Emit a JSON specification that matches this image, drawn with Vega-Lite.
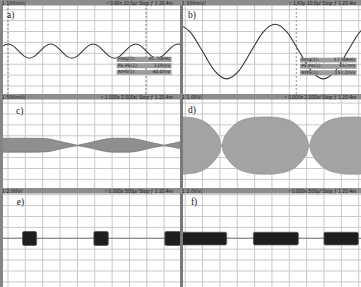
{
  "$schema": "https://vega.github.io/schema/vega-lite/v6.json",
  "padding": 0,
  "background": "#ffffff",
  "spacing": 0,
  "config": {"view": {"stroke": null}},
  "datasets": {
    "gx": [{"g": 0}, {"g": 1}, {"g": 2}, {"g": 3}, {"g": 4}, {"g": 5}, {"g": 6}, {"g": 7}, {"g": 8}, {"g": 9}, {"g": 10}],
    "gy": [{"g": -4}, {"g": -3}, {"g": -2}, {"g": -1}, {"g": 0}, {"g": 1}, {"g": 2}, {"g": 3}, {"g": 4}],
    "panels": [
      {"panel": "a", "label": "a)", "scale": "1 100mV/", "status": "↑ 0.00s   10.0μ/   Stop  ƒ 1  20.4m"},
      {"panel": "b", "label": "b)", "scale": "1 100mV/", "status": "↑ 1.60μ   10.0μ/   Stop  ƒ 1  20.4m"},
      {"panel": "c", "label": "c)", "scale": "1 500mV/", "status": "↑ 1.000s   2.000s/   Stop  ƒ 1  20.4m"},
      {"panel": "d", "label": "d)", "scale": "1 1.00V/", "status": "↑ 0.000s   2.000s/   Stop  ƒ 1  20.4m"},
      {"panel": "e", "label": "e)", "scale": "1 2.00V/", "status": "↑ 0.000s   500μ/   Stop  ƒ 1  20.4m"},
      {"panel": "f", "label": "f)", "scale": "1 2.00V/", "status": "↑ 0.000s   500μ/   Stop  ƒ 1  20.4m"}
    ],
    "cursors": [{"panel": "a", "t": 0}, {"panel": "a", "t": 7.95}, {"panel": "b", "t": 6.4}],
    "readouts": [
      {"panel": "a", "slot": 1, "name": "Freq(1):", "value": "41.70kHz"},
      {"panel": "a", "slot": 2, "name": "Pk-Pk(1):", "value": "119mV"},
      {"panel": "a", "slot": 3, "name": "RMS(1):", "value": "40.0mV"},
      {"panel": "b", "slot": 1, "name": "Freq(1):", "value": "17.50kHz"},
      {"panel": "b", "slot": 2, "name": "Pk-Pk(1):", "value": "457mV"},
      {"panel": "b", "slot": 3, "name": "RMS(1):", "value": "151.2mV"}
    ],
    "wave_a": [
      {"t": -0.6, "v": 0.2}, {"t": -0.296, "v": 0.66}, {"t": 0.01, "v": 0.85}, {"t": 0.316, "v": 0.66},
      {"t": 0.623, "v": 0.2}, {"t": 0.929, "v": -0.26}, {"t": 1.235, "v": -0.45}, {"t": 1.541, "v": -0.26},
      {"t": 1.848, "v": 0.2}, {"t": 2.154, "v": 0.66}, {"t": 2.46, "v": 0.85}, {"t": 2.766, "v": 0.66},
      {"t": 3.073, "v": 0.2}, {"t": 3.379, "v": -0.26}, {"t": 3.685, "v": -0.45}, {"t": 3.991, "v": -0.26},
      {"t": 4.298, "v": 0.2}, {"t": 4.604, "v": 0.66}, {"t": 4.91, "v": 0.85}, {"t": 5.216, "v": 0.66},
      {"t": 5.523, "v": 0.2}, {"t": 5.829, "v": -0.26}, {"t": 6.135, "v": -0.45}, {"t": 6.441, "v": -0.26},
      {"t": 6.748, "v": 0.2}, {"t": 7.054, "v": 0.66}, {"t": 7.36, "v": 0.85}, {"t": 7.666, "v": 0.66},
      {"t": 7.973, "v": 0.2}, {"t": 8.279, "v": -0.26}, {"t": 8.585, "v": -0.45}, {"t": 8.891, "v": -0.26},
      {"t": 9.198, "v": 0.2}, {"t": 9.504, "v": 0.66}, {"t": 9.81, "v": 0.85}, {"t": 10.116, "v": 0.66}
    ],
    "wave_b": [
      {"t": -0.39, "v": 2.66}, {"t": 0.306, "v": 1.93}, {"t": 1.004, "v": 0.16}, {"t": 1.7, "v": -1.61},
      {"t": 2.39, "v": -2.34}, {"t": 3.09, "v": -1.61}, {"t": 3.79, "v": 0.16}, {"t": 4.48, "v": 1.93},
      {"t": 5.18, "v": 2.66}, {"t": 5.88, "v": 1.93}, {"t": 6.57, "v": 0.16}, {"t": 7.27, "v": -1.61},
      {"t": 7.96, "v": -2.34}, {"t": 8.66, "v": -1.61}, {"t": 9.36, "v": 0.16}, {"t": 10.05, "v": 1.93},
      {"t": 10.75, "v": 2.66}
    ],
    "env_c": [
      {"t": -0.5, "v": 0.77, "v2": -0.51}, {"t": 1.7, "v": 0.77, "v2": -0.51}, {"t": 2.3, "v": 0.72, "v2": -0.46},
      {"t": 2.6, "v": 0.63, "v2": -0.37}, {"t": 3.0, "v": 0.48, "v2": -0.22}, {"t": 3.4, "v": 0.34, "v2": -0.08},
      {"t": 3.7, "v": 0.24, "v2": 0.02}, {"t": 4.0, "v": 0.13, "v2": 0.13}, {"t": 4.3, "v": 0.24, "v2": 0.02},
      {"t": 4.6, "v": 0.34, "v2": -0.08}, {"t": 5.0, "v": 0.48, "v2": -0.22}, {"t": 5.4, "v": 0.63, "v2": -0.37},
      {"t": 5.7, "v": 0.72, "v2": -0.46}, {"t": 6.0, "v": 0.77, "v2": -0.51}, {"t": 7.0, "v": 0.77, "v2": -0.51},
      {"t": 7.3, "v": 0.72, "v2": -0.46}, {"t": 7.6, "v": 0.63, "v2": -0.37}, {"t": 8.0, "v": 0.48, "v2": -0.22},
      {"t": 8.4, "v": 0.34, "v2": -0.08}, {"t": 8.7, "v": 0.24, "v2": 0.02}, {"t": 9.0, "v": 0.13, "v2": 0.13},
      {"t": 9.3, "v": 0.24, "v2": 0.02}, {"t": 9.6, "v": 0.34, "v2": -0.08}, {"t": 10.0, "v": 0.48, "v2": -0.22}
    ],
    "env_d": [
      {"t": -0.4, "v": 2.73, "v2": -2.53}, {"t": 0.1, "v": 2.7, "v2": -2.5}, {"t": 0.6, "v": 2.6, "v2": -2.4},
      {"t": 1.1, "v": 2.3, "v2": -2.1}, {"t": 1.35, "v": 2.03, "v2": -1.83}, {"t": 1.6, "v": 1.65, "v2": -1.45},
      {"t": 1.85, "v": 1.12, "v2": -0.92}, {"t": 2.0, "v": 0.66, "v2": -0.46}, {"t": 2.1, "v": 0.1, "v2": 0.1},
      {"t": 2.2, "v": 0.66, "v2": -0.46}, {"t": 2.35, "v": 1.12, "v2": -0.92}, {"t": 2.6, "v": 1.65, "v2": -1.45},
      {"t": 2.85, "v": 2.03, "v2": -1.83}, {"t": 3.1, "v": 2.3, "v2": -2.1}, {"t": 3.6, "v": 2.58, "v2": -2.38},
      {"t": 4.1, "v": 2.7, "v2": -2.5}, {"t": 4.63, "v": 2.73, "v2": -2.53}, {"t": 5.15, "v": 2.7, "v2": -2.5},
      {"t": 5.65, "v": 2.58, "v2": -2.38}, {"t": 6.15, "v": 2.3, "v2": -2.1}, {"t": 6.4, "v": 2.03, "v2": -1.83},
      {"t": 6.65, "v": 1.65, "v2": -1.45}, {"t": 6.9, "v": 1.12, "v2": -0.92}, {"t": 7.05, "v": 0.66, "v2": -0.46},
      {"t": 7.15, "v": 0.1, "v2": 0.1}, {"t": 7.25, "v": 0.66, "v2": -0.46}, {"t": 7.4, "v": 1.12, "v2": -0.92},
      {"t": 7.65, "v": 1.65, "v2": -1.45}, {"t": 7.9, "v": 2.03, "v2": -1.83}, {"t": 8.15, "v": 2.3, "v2": -2.1},
      {"t": 8.65, "v": 2.58, "v2": -2.38}, {"t": 9.15, "v": 2.7, "v2": -2.5}, {"t": 9.7, "v": 2.73, "v2": -2.53},
      {"t": 10.2, "v": 2.7, "v2": -2.5}
    ],
    "bursts": [
      {"panel": "e", "t": 0.84, "t2": 1.65, "v": 0.62, "v2": -0.66},
      {"panel": "e", "t": 4.95, "t2": 5.78, "v": 0.62, "v2": -0.66},
      {"panel": "e", "t": 9.04, "t2": 9.95, "v": 0.62, "v2": -0.66},
      {"panel": "f", "t": -0.3, "t2": 2.39, "v": 0.55, "v2": -0.61},
      {"panel": "f", "t": 3.93, "t2": 6.52, "v": 0.55, "v2": -0.61},
      {"panel": "f", "t": 8.0, "t2": 9.98, "v": 0.55, "v2": -0.61}
    ]
  },
  "vconcat": [
    {
      "spacing": 0,
      "bounds": "flush",
      "hconcat": [
        {
          "width": 180,
          "height": 94,
          "layer": [
            {"data": {"name": "gx"}, "mark": {"type": "rule", "color": "#c8c8c8", "strokeWidth": 1, "clip": true},
             "encoding": {"x": {"field": "g", "type": "quantitative", "scale": {"domain": [-0.461, 9.914], "nice": false, "zero": false}, "axis": null}}},
            {"data": {"name": "gy"}, "mark": {"type": "rule", "color": "#c8c8c8", "strokeWidth": 1, "clip": true},
             "encoding": {"y": {"field": "g", "type": "quantitative", "scale": {"domain": [-3.73, 4.89], "nice": false, "zero": false}, "axis": null}}},
            {"data": {"name": "cursors"}, "transform": [{"filter": "datum.panel === 'a'"}],
             "mark": {"type": "rule", "color": "#8a8a8a", "strokeWidth": 1, "strokeDash": [2, 2], "clip": true},
             "encoding": {"x": {"field": "t", "type": "quantitative", "scale": {"domain": [-0.461, 9.914], "nice": false, "zero": false}, "axis": null}}},
            {"data": {"name": "wave_a"}, "mark": {"type": "line", "color": "#383838", "strokeWidth": 1.1, "interpolate": "monotone", "clip": true},
             "encoding": {"x": {"field": "t", "type": "quantitative", "scale": {"domain": [-0.461, 9.914], "nice": false, "zero": false}, "axis": null},
                          "y": {"field": "v", "type": "quantitative", "scale": {"domain": [-3.73, 4.89], "nice": false, "zero": false}, "axis": null}}},
            {"data": {"name": "readouts"}, "transform": [{"filter": "datum.panel === 'a' && datum.slot === 1"}], "mark": {"type": "rect", "color": "#9c9c9c"},
             "encoding": {"x": {"datum": 6.26, "type": "quantitative", "scale": {"domain": [-0.461, 9.914], "nice": false, "zero": false}, "axis": null}, "x2": {"datum": 9.43},
                          "y": {"datum": -0.31, "type": "quantitative", "scale": {"domain": [-3.73, 4.89], "nice": false, "zero": false}, "axis": null}, "y2": {"datum": -0.8}}},
            {"data": {"name": "readouts"}, "transform": [{"filter": "datum.panel === 'a' && datum.slot === 2"}], "mark": {"type": "rect", "color": "#9c9c9c"},
             "encoding": {"x": {"datum": 6.26, "type": "quantitative", "scale": {"domain": [-0.461, 9.914], "nice": false, "zero": false}, "axis": null}, "x2": {"datum": 9.43},
                          "y": {"datum": -0.92, "type": "quantitative", "scale": {"domain": [-3.73, 4.89], "nice": false, "zero": false}, "axis": null}, "y2": {"datum": -1.37}}},
            {"data": {"name": "readouts"}, "transform": [{"filter": "datum.panel === 'a' && datum.slot === 3"}], "mark": {"type": "rect", "color": "#9c9c9c"},
             "encoding": {"x": {"datum": 6.26, "type": "quantitative", "scale": {"domain": [-0.461, 9.914], "nice": false, "zero": false}, "axis": null}, "x2": {"datum": 9.43},
                          "y": {"datum": -1.53, "type": "quantitative", "scale": {"domain": [-3.73, 4.89], "nice": false, "zero": false}, "axis": null}, "y2": {"datum": -1.97}}},
            {"data": {"name": "readouts"}, "transform": [{"filter": "datum.panel === 'a' && datum.slot === 1"}], "mark": {"type": "text", "align": "left", "baseline": "middle", "fontSize": 4.6, "font": "DejaVu Sans", "color": "#1c1c1c"},
             "encoding": {"x": {"datum": 6.33, "type": "quantitative", "scale": {"domain": [-0.461, 9.914], "nice": false, "zero": false}, "axis": null},
                          "y": {"datum": -0.555, "type": "quantitative", "scale": {"domain": [-3.73, 4.89], "nice": false, "zero": false}, "axis": null}, "text": {"field": "name"}}},
            {"data": {"name": "readouts"}, "transform": [{"filter": "datum.panel === 'a' && datum.slot === 1"}], "mark": {"type": "text", "align": "right", "baseline": "middle", "fontSize": 4.6, "font": "DejaVu Sans", "color": "#1c1c1c"},
             "encoding": {"x": {"datum": 9.36, "type": "quantitative", "scale": {"domain": [-0.461, 9.914], "nice": false, "zero": false}, "axis": null},
                          "y": {"datum": -0.555, "type": "quantitative", "scale": {"domain": [-3.73, 4.89], "nice": false, "zero": false}, "axis": null}, "text": {"field": "value"}}},
            {"data": {"name": "readouts"}, "transform": [{"filter": "datum.panel === 'a' && datum.slot === 2"}], "mark": {"type": "text", "align": "left", "baseline": "middle", "fontSize": 4.6, "font": "DejaVu Sans", "color": "#1c1c1c"},
             "encoding": {"x": {"datum": 6.33, "type": "quantitative", "scale": {"domain": [-0.461, 9.914], "nice": false, "zero": false}, "axis": null},
                          "y": {"datum": -1.145, "type": "quantitative", "scale": {"domain": [-3.73, 4.89], "nice": false, "zero": false}, "axis": null}, "text": {"field": "name"}}},
            {"data": {"name": "readouts"}, "transform": [{"filter": "datum.panel === 'a' && datum.slot === 2"}], "mark": {"type": "text", "align": "right", "baseline": "middle", "fontSize": 4.6, "font": "DejaVu Sans", "color": "#1c1c1c"},
             "encoding": {"x": {"datum": 9.36, "type": "quantitative", "scale": {"domain": [-0.461, 9.914], "nice": false, "zero": false}, "axis": null},
                          "y": {"datum": -1.145, "type": "quantitative", "scale": {"domain": [-3.73, 4.89], "nice": false, "zero": false}, "axis": null}, "text": {"field": "value"}}},
            {"data": {"name": "readouts"}, "transform": [{"filter": "datum.panel === 'a' && datum.slot === 3"}], "mark": {"type": "text", "align": "left", "baseline": "middle", "fontSize": 4.6, "font": "DejaVu Sans", "color": "#1c1c1c"},
             "encoding": {"x": {"datum": 6.33, "type": "quantitative", "scale": {"domain": [-0.461, 9.914], "nice": false, "zero": false}, "axis": null},
                          "y": {"datum": -1.75, "type": "quantitative", "scale": {"domain": [-3.73, 4.89], "nice": false, "zero": false}, "axis": null}, "text": {"field": "name"}}},
            {"data": {"name": "readouts"}, "transform": [{"filter": "datum.panel === 'a' && datum.slot === 3"}], "mark": {"type": "text", "align": "right", "baseline": "middle", "fontSize": 4.6, "font": "DejaVu Sans", "color": "#1c1c1c"},
             "encoding": {"x": {"datum": 9.36, "type": "quantitative", "scale": {"domain": [-0.461, 9.914], "nice": false, "zero": false}, "axis": null},
                          "y": {"datum": -1.75, "type": "quantitative", "scale": {"domain": [-3.73, 4.89], "nice": false, "zero": false}, "axis": null}, "text": {"field": "value"}}},
            {"data": {"name": "panels"}, "transform": [{"filter": "datum.panel === 'a'"}], "mark": {"type": "rect", "color": "#858585"},
             "encoding": {"x": {"datum": -0.461, "type": "quantitative", "scale": {"domain": [-0.461, 9.914], "nice": false, "zero": false}, "axis": null}, "x2": {"datum": -0.288},
                          "y": {"datum": -3.73, "type": "quantitative", "scale": {"domain": [-3.73, 4.89], "nice": false, "zero": false}, "axis": null}, "y2": {"datum": 4.89}}},
            {"data": {"name": "panels"}, "transform": [{"filter": "datum.panel === 'a'"}], "mark": {"type": "rect", "color": "#8d8d8d"},
             "encoding": {"x": {"datum": -0.461, "type": "quantitative", "scale": {"domain": [-0.461, 9.914], "nice": false, "zero": false}, "axis": null}, "x2": {"datum": 9.914},
                          "y": {"datum": 4.39, "type": "quantitative", "scale": {"domain": [-3.73, 4.89], "nice": false, "zero": false}, "axis": null}, "y2": {"datum": 4.89}}},
            {"data": {"name": "panels"}, "transform": [{"filter": "datum.panel === 'a'"}], "mark": {"type": "text", "align": "left", "baseline": "middle", "fontSize": 5, "font": "DejaVu Sans", "color": "#1a1a1a"},
             "encoding": {"x": {"datum": -0.38, "type": "quantitative", "scale": {"domain": [-0.461, 9.914], "nice": false, "zero": false}, "axis": null},
                          "y": {"datum": 4.64, "type": "quantitative", "scale": {"domain": [-3.73, 4.89], "nice": false, "zero": false}, "axis": null}, "text": {"field": "scale"}}},
            {"data": {"name": "panels"}, "transform": [{"filter": "datum.panel === 'a'"}], "mark": {"type": "text", "align": "right", "baseline": "middle", "fontSize": 5, "font": "Liberation Sans", "color": "#1a1a1a"},
             "encoding": {"x": {"datum": 9.5, "type": "quantitative", "scale": {"domain": [-0.461, 9.914], "nice": false, "zero": false}, "axis": null},
                          "y": {"datum": 4.64, "type": "quantitative", "scale": {"domain": [-3.73, 4.89], "nice": false, "zero": false}, "axis": null}, "text": {"field": "status"}}},
            {"data": {"name": "panels"}, "transform": [{"filter": "datum.panel === 'a'"}], "mark": {"type": "text", "align": "left", "baseline": "alphabetic", "fontSize": 9.5, "font": "Liberation Serif", "color": "#222222"},
             "encoding": {"x": {"datum": -0.06, "type": "quantitative", "scale": {"domain": [-0.461, 9.914], "nice": false, "zero": false}, "axis": null},
                          "y": {"datum": 3.27, "type": "quantitative", "scale": {"domain": [-3.73, 4.89], "nice": false, "zero": false}, "axis": null}, "text": {"field": "label"}}}
          ]
        },
        {
          "width": 181,
          "height": 94,
          "layer": [
            {"data": {"name": "gx"}, "mark": {"type": "rule", "color": "#c8c8c8", "strokeWidth": 1, "clip": true},
             "encoding": {"x": {"field": "g", "type": "quantitative", "scale": {"domain": [-0.3, 10.133], "nice": false, "zero": false}, "axis": null}}},
            {"data": {"name": "gy"}, "mark": {"type": "rule", "color": "#c8c8c8", "strokeWidth": 1, "clip": true},
             "encoding": {"y": {"field": "g", "type": "quantitative", "scale": {"domain": [-3.73, 4.89], "nice": false, "zero": false}, "axis": null}}},
            {"data": {"name": "cursors"}, "transform": [{"filter": "datum.panel === 'b'"}],
             "mark": {"type": "rule", "color": "#8a8a8a", "strokeWidth": 1, "strokeDash": [2, 2], "clip": true},
             "encoding": {"x": {"field": "t", "type": "quantitative", "scale": {"domain": [-0.3, 10.133], "nice": false, "zero": false}, "axis": null}}},
            {"data": {"name": "wave_b"}, "mark": {"type": "line", "color": "#383838", "strokeWidth": 1.1, "interpolate": "monotone", "clip": true},
             "encoding": {"x": {"field": "t", "type": "quantitative", "scale": {"domain": [-0.3, 10.133], "nice": false, "zero": false}, "axis": null},
                          "y": {"field": "v", "type": "quantitative", "scale": {"domain": [-3.73, 4.89], "nice": false, "zero": false}, "axis": null}}},
            {"data": {"name": "readouts"}, "transform": [{"filter": "datum.panel === 'b' && datum.slot === 1"}], "mark": {"type": "rect", "color": "#9c9c9c"},
             "encoding": {"x": {"datum": 6.62, "type": "quantitative", "scale": {"domain": [-0.3, 10.133], "nice": false, "zero": false}, "axis": null}, "x2": {"datum": 9.88},
                          "y": {"datum": -0.4, "type": "quantitative", "scale": {"domain": [-3.73, 4.89], "nice": false, "zero": false}, "axis": null}, "y2": {"datum": -0.85}}},
            {"data": {"name": "readouts"}, "transform": [{"filter": "datum.panel === 'b' && datum.slot === 2"}], "mark": {"type": "rect", "color": "#9c9c9c"},
             "encoding": {"x": {"datum": 6.62, "type": "quantitative", "scale": {"domain": [-0.3, 10.133], "nice": false, "zero": false}, "axis": null}, "x2": {"datum": 9.88},
                          "y": {"datum": -0.98, "type": "quantitative", "scale": {"domain": [-3.73, 4.89], "nice": false, "zero": false}, "axis": null}, "y2": {"datum": -1.42}}},
            {"data": {"name": "readouts"}, "transform": [{"filter": "datum.panel === 'b' && datum.slot === 3"}], "mark": {"type": "rect", "color": "#9c9c9c"},
             "encoding": {"x": {"datum": 6.62, "type": "quantitative", "scale": {"domain": [-0.3, 10.133], "nice": false, "zero": false}, "axis": null}, "x2": {"datum": 9.88},
                          "y": {"datum": -1.56, "type": "quantitative", "scale": {"domain": [-3.73, 4.89], "nice": false, "zero": false}, "axis": null}, "y2": {"datum": -2.0}}},
            {"data": {"name": "readouts"}, "transform": [{"filter": "datum.panel === 'b' && datum.slot === 1"}], "mark": {"type": "text", "align": "left", "baseline": "middle", "fontSize": 4.6, "font": "DejaVu Sans", "color": "#1c1c1c"},
             "encoding": {"x": {"datum": 6.69, "type": "quantitative", "scale": {"domain": [-0.3, 10.133], "nice": false, "zero": false}, "axis": null},
                          "y": {"datum": -0.625, "type": "quantitative", "scale": {"domain": [-3.73, 4.89], "nice": false, "zero": false}, "axis": null}, "text": {"field": "name"}}},
            {"data": {"name": "readouts"}, "transform": [{"filter": "datum.panel === 'b' && datum.slot === 1"}], "mark": {"type": "text", "align": "right", "baseline": "middle", "fontSize": 4.6, "font": "DejaVu Sans", "color": "#1c1c1c"},
             "encoding": {"x": {"datum": 9.81, "type": "quantitative", "scale": {"domain": [-0.3, 10.133], "nice": false, "zero": false}, "axis": null},
                          "y": {"datum": -0.625, "type": "quantitative", "scale": {"domain": [-3.73, 4.89], "nice": false, "zero": false}, "axis": null}, "text": {"field": "value"}}},
            {"data": {"name": "readouts"}, "transform": [{"filter": "datum.panel === 'b' && datum.slot === 2"}], "mark": {"type": "text", "align": "left", "baseline": "middle", "fontSize": 4.6, "font": "DejaVu Sans", "color": "#1c1c1c"},
             "encoding": {"x": {"datum": 6.69, "type": "quantitative", "scale": {"domain": [-0.3, 10.133], "nice": false, "zero": false}, "axis": null},
                          "y": {"datum": -1.2, "type": "quantitative", "scale": {"domain": [-3.73, 4.89], "nice": false, "zero": false}, "axis": null}, "text": {"field": "name"}}},
            {"data": {"name": "readouts"}, "transform": [{"filter": "datum.panel === 'b' && datum.slot === 2"}], "mark": {"type": "text", "align": "right", "baseline": "middle", "fontSize": 4.6, "font": "DejaVu Sans", "color": "#1c1c1c"},
             "encoding": {"x": {"datum": 9.81, "type": "quantitative", "scale": {"domain": [-0.3, 10.133], "nice": false, "zero": false}, "axis": null},
                          "y": {"datum": -1.2, "type": "quantitative", "scale": {"domain": [-3.73, 4.89], "nice": false, "zero": false}, "axis": null}, "text": {"field": "value"}}},
            {"data": {"name": "readouts"}, "transform": [{"filter": "datum.panel === 'b' && datum.slot === 3"}], "mark": {"type": "text", "align": "left", "baseline": "middle", "fontSize": 4.6, "font": "DejaVu Sans", "color": "#1c1c1c"},
             "encoding": {"x": {"datum": 6.69, "type": "quantitative", "scale": {"domain": [-0.3, 10.133], "nice": false, "zero": false}, "axis": null},
                          "y": {"datum": -1.78, "type": "quantitative", "scale": {"domain": [-3.73, 4.89], "nice": false, "zero": false}, "axis": null}, "text": {"field": "name"}}},
            {"data": {"name": "readouts"}, "transform": [{"filter": "datum.panel === 'b' && datum.slot === 3"}], "mark": {"type": "text", "align": "right", "baseline": "middle", "fontSize": 4.6, "font": "DejaVu Sans", "color": "#1c1c1c"},
             "encoding": {"x": {"datum": 9.81, "type": "quantitative", "scale": {"domain": [-0.3, 10.133], "nice": false, "zero": false}, "axis": null},
                          "y": {"datum": -1.78, "type": "quantitative", "scale": {"domain": [-3.73, 4.89], "nice": false, "zero": false}, "axis": null}, "text": {"field": "value"}}},
            {"data": {"name": "panels"}, "transform": [{"filter": "datum.panel === 'b'"}], "mark": {"type": "rect", "color": "#7a7a7a"},
             "encoding": {"x": {"datum": -0.3, "type": "quantitative", "scale": {"domain": [-0.3, 10.133], "nice": false, "zero": false}, "axis": null}, "x2": {"datum": -0.127},
                          "y": {"datum": -3.73, "type": "quantitative", "scale": {"domain": [-3.73, 4.89], "nice": false, "zero": false}, "axis": null}, "y2": {"datum": 4.89}}},
            {"data": {"name": "panels"}, "transform": [{"filter": "datum.panel === 'b'"}], "mark": {"type": "rect", "color": "#8d8d8d"},
             "encoding": {"x": {"datum": -0.3, "type": "quantitative", "scale": {"domain": [-0.3, 10.133], "nice": false, "zero": false}, "axis": null}, "x2": {"datum": 10.133},
                          "y": {"datum": 4.39, "type": "quantitative", "scale": {"domain": [-3.73, 4.89], "nice": false, "zero": false}, "axis": null}, "y2": {"datum": 4.89}}},
            {"data": {"name": "panels"}, "transform": [{"filter": "datum.panel === 'b'"}], "mark": {"type": "text", "align": "left", "baseline": "middle", "fontSize": 5, "font": "DejaVu Sans", "color": "#1a1a1a"},
             "encoding": {"x": {"datum": -0.22, "type": "quantitative", "scale": {"domain": [-0.3, 10.133], "nice": false, "zero": false}, "axis": null},
                          "y": {"datum": 4.64, "type": "quantitative", "scale": {"domain": [-3.73, 4.89], "nice": false, "zero": false}, "axis": null}, "text": {"field": "scale"}}},
            {"data": {"name": "panels"}, "transform": [{"filter": "datum.panel === 'b'"}], "mark": {"type": "text", "align": "right", "baseline": "middle", "fontSize": 5, "font": "Liberation Sans", "color": "#1a1a1a"},
             "encoding": {"x": {"datum": 9.86, "type": "quantitative", "scale": {"domain": [-0.3, 10.133], "nice": false, "zero": false}, "axis": null},
                          "y": {"datum": 4.64, "type": "quantitative", "scale": {"domain": [-3.73, 4.89], "nice": false, "zero": false}, "axis": null}, "text": {"field": "status"}}},
            {"data": {"name": "panels"}, "transform": [{"filter": "datum.panel === 'b'"}], "mark": {"type": "text", "align": "left", "baseline": "alphabetic", "fontSize": 9.5, "font": "Liberation Serif", "color": "#222222"},
             "encoding": {"x": {"datum": 0.16, "type": "quantitative", "scale": {"domain": [-0.3, 10.133], "nice": false, "zero": false}, "axis": null},
                          "y": {"datum": 3.27, "type": "quantitative", "scale": {"domain": [-3.73, 4.89], "nice": false, "zero": false}, "axis": null}, "text": {"field": "label"}}}
          ]
        }
      ]
    },
    {
      "spacing": 0,
      "bounds": "flush",
      "hconcat": [
        {
          "width": 180,
          "height": 94,
          "layer": [
            {"data": {"name": "gx"}, "mark": {"type": "rule", "color": "#c8c8c8", "strokeWidth": 1, "clip": true},
             "encoding": {"x": {"field": "g", "type": "quantitative", "scale": {"domain": [-0.461, 9.914], "nice": false, "zero": false}, "axis": null}}},
            {"data": {"name": "gy"}, "mark": {"type": "rule", "color": "#c8c8c8", "strokeWidth": 1, "clip": true},
             "encoding": {"y": {"field": "g", "type": "quantitative", "scale": {"domain": [-3.79, 4.83], "nice": false, "zero": false}, "axis": null}}},
            {"data": {"name": "env_c"}, "mark": {"type": "area", "color": "#8f8f8f", "stroke": "#666666", "strokeWidth": 0.6, "clip": true},
             "encoding": {"x": {"field": "t", "type": "quantitative", "scale": {"domain": [-0.461, 9.914], "nice": false, "zero": false}, "axis": null},
                          "y": {"field": "v", "type": "quantitative", "scale": {"domain": [-3.79, 4.83], "nice": false, "zero": false}, "axis": null}, "y2": {"field": "v2"}}},
            {"data": {"name": "panels"}, "transform": [{"filter": "datum.panel === 'c'"}], "mark": {"type": "rect", "color": "#858585"},
             "encoding": {"x": {"datum": -0.461, "type": "quantitative", "scale": {"domain": [-0.461, 9.914], "nice": false, "zero": false}, "axis": null}, "x2": {"datum": -0.288},
                          "y": {"datum": -3.79, "type": "quantitative", "scale": {"domain": [-3.79, 4.83], "nice": false, "zero": false}, "axis": null}, "y2": {"datum": 4.83}}},
            {"data": {"name": "panels"}, "transform": [{"filter": "datum.panel === 'c'"}], "mark": {"type": "rect", "color": "#8d8d8d"},
             "encoding": {"x": {"datum": -0.461, "type": "quantitative", "scale": {"domain": [-0.461, 9.914], "nice": false, "zero": false}, "axis": null}, "x2": {"datum": 9.914},
                          "y": {"datum": 4.33, "type": "quantitative", "scale": {"domain": [-3.79, 4.83], "nice": false, "zero": false}, "axis": null}, "y2": {"datum": 4.83}}},
            {"data": {"name": "panels"}, "transform": [{"filter": "datum.panel === 'c'"}], "mark": {"type": "text", "align": "left", "baseline": "middle", "fontSize": 5, "font": "DejaVu Sans", "color": "#1a1a1a"},
             "encoding": {"x": {"datum": -0.38, "type": "quantitative", "scale": {"domain": [-0.461, 9.914], "nice": false, "zero": false}, "axis": null},
                          "y": {"datum": 4.58, "type": "quantitative", "scale": {"domain": [-3.79, 4.83], "nice": false, "zero": false}, "axis": null}, "text": {"field": "scale"}}},
            {"data": {"name": "panels"}, "transform": [{"filter": "datum.panel === 'c'"}], "mark": {"type": "text", "align": "right", "baseline": "middle", "fontSize": 5, "font": "Liberation Sans", "color": "#1a1a1a"},
             "encoding": {"x": {"datum": 9.5, "type": "quantitative", "scale": {"domain": [-0.461, 9.914], "nice": false, "zero": false}, "axis": null},
                          "y": {"datum": 4.58, "type": "quantitative", "scale": {"domain": [-3.79, 4.83], "nice": false, "zero": false}, "axis": null}, "text": {"field": "status"}}},
            {"data": {"name": "panels"}, "transform": [{"filter": "datum.panel === 'c'"}], "mark": {"type": "text", "align": "left", "baseline": "alphabetic", "fontSize": 9.5, "font": "Liberation Serif", "color": "#222222"},
             "encoding": {"x": {"datum": 0.46, "type": "quantitative", "scale": {"domain": [-0.461, 9.914], "nice": false, "zero": false}, "axis": null},
                          "y": {"datum": 3.0, "type": "quantitative", "scale": {"domain": [-3.79, 4.83], "nice": false, "zero": false}, "axis": null}, "text": {"field": "label"}}}
          ]
        },
        {
          "width": 181,
          "height": 94,
          "layer": [
            {"data": {"name": "gx"}, "mark": {"type": "rule", "color": "#c8c8c8", "strokeWidth": 1, "clip": true},
             "encoding": {"x": {"field": "g", "type": "quantitative", "scale": {"domain": [-0.3, 10.133], "nice": false, "zero": false}, "axis": null}}},
            {"data": {"name": "gy"}, "mark": {"type": "rule", "color": "#c8c8c8", "strokeWidth": 1, "clip": true},
             "encoding": {"y": {"field": "g", "type": "quantitative", "scale": {"domain": [-3.79, 4.83], "nice": false, "zero": false}, "axis": null}}},
            {"data": {"name": "env_d"}, "mark": {"type": "area", "color": "#a3a3a3", "stroke": "#888888", "strokeWidth": 0.6, "interpolate": "monotone", "clip": true},
             "encoding": {"x": {"field": "t", "type": "quantitative", "scale": {"domain": [-0.3, 10.133], "nice": false, "zero": false}, "axis": null},
                          "y": {"field": "v", "type": "quantitative", "scale": {"domain": [-3.79, 4.83], "nice": false, "zero": false}, "axis": null}, "y2": {"field": "v2"}}},
            {"data": {"name": "panels"}, "transform": [{"filter": "datum.panel === 'd'"}], "mark": {"type": "rect", "color": "#7a7a7a"},
             "encoding": {"x": {"datum": -0.3, "type": "quantitative", "scale": {"domain": [-0.3, 10.133], "nice": false, "zero": false}, "axis": null}, "x2": {"datum": -0.127},
                          "y": {"datum": -3.79, "type": "quantitative", "scale": {"domain": [-3.79, 4.83], "nice": false, "zero": false}, "axis": null}, "y2": {"datum": 4.83}}},
            {"data": {"name": "panels"}, "transform": [{"filter": "datum.panel === 'd'"}], "mark": {"type": "rect", "color": "#8d8d8d"},
             "encoding": {"x": {"datum": -0.3, "type": "quantitative", "scale": {"domain": [-0.3, 10.133], "nice": false, "zero": false}, "axis": null}, "x2": {"datum": 10.133},
                          "y": {"datum": 4.33, "type": "quantitative", "scale": {"domain": [-3.79, 4.83], "nice": false, "zero": false}, "axis": null}, "y2": {"datum": 4.83}}},
            {"data": {"name": "panels"}, "transform": [{"filter": "datum.panel === 'd'"}], "mark": {"type": "text", "align": "left", "baseline": "middle", "fontSize": 5, "font": "DejaVu Sans", "color": "#1a1a1a"},
             "encoding": {"x": {"datum": -0.22, "type": "quantitative", "scale": {"domain": [-0.3, 10.133], "nice": false, "zero": false}, "axis": null},
                          "y": {"datum": 4.58, "type": "quantitative", "scale": {"domain": [-3.79, 4.83], "nice": false, "zero": false}, "axis": null}, "text": {"field": "scale"}}},
            {"data": {"name": "panels"}, "transform": [{"filter": "datum.panel === 'd'"}], "mark": {"type": "text", "align": "right", "baseline": "middle", "fontSize": 5, "font": "Liberation Sans", "color": "#1a1a1a"},
             "encoding": {"x": {"datum": 9.86, "type": "quantitative", "scale": {"domain": [-0.3, 10.133], "nice": false, "zero": false}, "axis": null},
                          "y": {"datum": 4.58, "type": "quantitative", "scale": {"domain": [-3.79, 4.83], "nice": false, "zero": false}, "axis": null}, "text": {"field": "status"}}},
            {"data": {"name": "panels"}, "transform": [{"filter": "datum.panel === 'd'"}], "mark": {"type": "text", "align": "left", "baseline": "alphabetic", "fontSize": 9.5, "font": "Liberation Serif", "color": "#222222"},
             "encoding": {"x": {"datum": 0.16, "type": "quantitative", "scale": {"domain": [-0.3, 10.133], "nice": false, "zero": false}, "axis": null},
                          "y": {"datum": 3.09, "type": "quantitative", "scale": {"domain": [-3.79, 4.83], "nice": false, "zero": false}, "axis": null}, "text": {"field": "label"}}}
          ]
        }
      ]
    },
    {
      "spacing": 0,
      "bounds": "flush",
      "hconcat": [
        {
          "width": 180,
          "height": 99,
          "layer": [
            {"data": {"name": "gx"}, "mark": {"type": "rule", "color": "#c8c8c8", "strokeWidth": 1, "clip": true},
             "encoding": {"x": {"field": "g", "type": "quantitative", "scale": {"domain": [-0.461, 9.914], "nice": false, "zero": false}, "axis": null}}},
            {"data": {"name": "gy"}, "mark": {"type": "rule", "color": "#c8c8c8", "strokeWidth": 1, "clip": true},
             "encoding": {"y": {"field": "g", "type": "quantitative", "scale": {"domain": [-4.47, 4.61], "nice": false, "zero": false}, "axis": null}}},
            {"data": {"name": "panels"}, "transform": [{"filter": "datum.panel === 'e'"}], "mark": {"type": "rule", "color": "#7a7a7a", "strokeWidth": 1, "clip": true},
             "encoding": {"y": {"datum": 0, "type": "quantitative", "scale": {"domain": [-4.47, 4.61], "nice": false, "zero": false}, "axis": null}}},
            {"data": {"name": "bursts"}, "transform": [{"filter": "datum.panel === 'e'"}], "mark": {"type": "rect", "color": "#1e1e1e", "stroke": "#555555", "strokeWidth": 0.8, "cornerRadius": 1.5, "clip": true},
             "encoding": {"x": {"field": "t", "type": "quantitative", "scale": {"domain": [-0.461, 9.914], "nice": false, "zero": false}, "axis": null}, "x2": {"field": "t2"},
                          "y": {"field": "v", "type": "quantitative", "scale": {"domain": [-4.47, 4.61], "nice": false, "zero": false}, "axis": null}, "y2": {"field": "v2"}}},
            {"data": {"name": "panels"}, "transform": [{"filter": "datum.panel === 'e'"}], "mark": {"type": "rect", "color": "#858585"},
             "encoding": {"x": {"datum": -0.461, "type": "quantitative", "scale": {"domain": [-0.461, 9.914], "nice": false, "zero": false}, "axis": null}, "x2": {"datum": -0.288},
                          "y": {"datum": -4.47, "type": "quantitative", "scale": {"domain": [-4.47, 4.61], "nice": false, "zero": false}, "axis": null}, "y2": {"datum": 4.61}}},
            {"data": {"name": "panels"}, "transform": [{"filter": "datum.panel === 'e'"}], "mark": {"type": "rect", "color": "#8d8d8d"},
             "encoding": {"x": {"datum": -0.461, "type": "quantitative", "scale": {"domain": [-0.461, 9.914], "nice": false, "zero": false}, "axis": null}, "x2": {"datum": 9.914},
                          "y": {"datum": 4.11, "type": "quantitative", "scale": {"domain": [-4.47, 4.61], "nice": false, "zero": false}, "axis": null}, "y2": {"datum": 4.61}}},
            {"data": {"name": "panels"}, "transform": [{"filter": "datum.panel === 'e'"}], "mark": {"type": "text", "align": "left", "baseline": "middle", "fontSize": 5, "font": "DejaVu Sans", "color": "#1a1a1a"},
             "encoding": {"x": {"datum": -0.38, "type": "quantitative", "scale": {"domain": [-0.461, 9.914], "nice": false, "zero": false}, "axis": null},
                          "y": {"datum": 4.36, "type": "quantitative", "scale": {"domain": [-4.47, 4.61], "nice": false, "zero": false}, "axis": null}, "text": {"field": "scale"}}},
            {"data": {"name": "panels"}, "transform": [{"filter": "datum.panel === 'e'"}], "mark": {"type": "text", "align": "right", "baseline": "middle", "fontSize": 5, "font": "Liberation Sans", "color": "#1a1a1a"},
             "encoding": {"x": {"datum": 9.5, "type": "quantitative", "scale": {"domain": [-0.461, 9.914], "nice": false, "zero": false}, "axis": null},
                          "y": {"datum": 4.36, "type": "quantitative", "scale": {"domain": [-4.47, 4.61], "nice": false, "zero": false}, "axis": null}, "text": {"field": "status"}}},
            {"data": {"name": "panels"}, "transform": [{"filter": "datum.panel === 'e'"}], "mark": {"type": "text", "align": "left", "baseline": "alphabetic", "fontSize": 9.5, "font": "Liberation Serif", "color": "#222222"},
             "encoding": {"x": {"datum": 0.51, "type": "quantitative", "scale": {"domain": [-0.461, 9.914], "nice": false, "zero": false}, "axis": null},
                          "y": {"datum": 3.05, "type": "quantitative", "scale": {"domain": [-4.47, 4.61], "nice": false, "zero": false}, "axis": null}, "text": {"field": "label"}}}
          ]
        },
        {
          "width": 181,
          "height": 99,
          "layer": [
            {"data": {"name": "gx"}, "mark": {"type": "rule", "color": "#c8c8c8", "strokeWidth": 1, "clip": true},
             "encoding": {"x": {"field": "g", "type": "quantitative", "scale": {"domain": [-0.3, 10.133], "nice": false, "zero": false}, "axis": null}}},
            {"data": {"name": "gy"}, "mark": {"type": "rule", "color": "#c8c8c8", "strokeWidth": 1, "clip": true},
             "encoding": {"y": {"field": "g", "type": "quantitative", "scale": {"domain": [-4.47, 4.61], "nice": false, "zero": false}, "axis": null}}},
            {"data": {"name": "panels"}, "transform": [{"filter": "datum.panel === 'f'"}], "mark": {"type": "rule", "color": "#7a7a7a", "strokeWidth": 1, "clip": true},
             "encoding": {"y": {"datum": 0, "type": "quantitative", "scale": {"domain": [-4.47, 4.61], "nice": false, "zero": false}, "axis": null}}},
            {"data": {"name": "bursts"}, "transform": [{"filter": "datum.panel === 'f'"}], "mark": {"type": "rect", "color": "#1e1e1e", "stroke": "#555555", "strokeWidth": 0.8, "cornerRadius": 1.5, "clip": true},
             "encoding": {"x": {"field": "t", "type": "quantitative", "scale": {"domain": [-0.3, 10.133], "nice": false, "zero": false}, "axis": null}, "x2": {"field": "t2"},
                          "y": {"field": "v", "type": "quantitative", "scale": {"domain": [-4.47, 4.61], "nice": false, "zero": false}, "axis": null}, "y2": {"field": "v2"}}},
            {"data": {"name": "panels"}, "transform": [{"filter": "datum.panel === 'f'"}], "mark": {"type": "rect", "color": "#7a7a7a"},
             "encoding": {"x": {"datum": -0.3, "type": "quantitative", "scale": {"domain": [-0.3, 10.133], "nice": false, "zero": false}, "axis": null}, "x2": {"datum": -0.127},
                          "y": {"datum": -4.47, "type": "quantitative", "scale": {"domain": [-4.47, 4.61], "nice": false, "zero": false}, "axis": null}, "y2": {"datum": 4.61}}},
            {"data": {"name": "panels"}, "transform": [{"filter": "datum.panel === 'f'"}], "mark": {"type": "rect", "color": "#8d8d8d"},
             "encoding": {"x": {"datum": -0.3, "type": "quantitative", "scale": {"domain": [-0.3, 10.133], "nice": false, "zero": false}, "axis": null}, "x2": {"datum": 10.133},
                          "y": {"datum": 4.11, "type": "quantitative", "scale": {"domain": [-4.47, 4.61], "nice": false, "zero": false}, "axis": null}, "y2": {"datum": 4.61}}},
            {"data": {"name": "panels"}, "transform": [{"filter": "datum.panel === 'f'"}], "mark": {"type": "text", "align": "left", "baseline": "middle", "fontSize": 5, "font": "DejaVu Sans", "color": "#1a1a1a"},
             "encoding": {"x": {"datum": -0.22, "type": "quantitative", "scale": {"domain": [-0.3, 10.133], "nice": false, "zero": false}, "axis": null},
                          "y": {"datum": 4.36, "type": "quantitative", "scale": {"domain": [-4.47, 4.61], "nice": false, "zero": false}, "axis": null}, "text": {"field": "scale"}}},
            {"data": {"name": "panels"}, "transform": [{"filter": "datum.panel === 'f'"}], "mark": {"type": "text", "align": "right", "baseline": "middle", "fontSize": 5, "font": "Liberation Sans", "color": "#1a1a1a"},
             "encoding": {"x": {"datum": 9.86, "type": "quantitative", "scale": {"domain": [-0.3, 10.133], "nice": false, "zero": false}, "axis": null},
                          "y": {"datum": 4.36, "type": "quantitative", "scale": {"domain": [-4.47, 4.61], "nice": false, "zero": false}, "axis": null}, "text": {"field": "status"}}},
            {"data": {"name": "panels"}, "transform": [{"filter": "datum.panel === 'f'"}], "mark": {"type": "text", "align": "left", "baseline": "alphabetic", "fontSize": 9.5, "font": "Liberation Serif", "color": "#222222"},
             "encoding": {"x": {"datum": 0.33, "type": "quantitative", "scale": {"domain": [-0.3, 10.133], "nice": false, "zero": false}, "axis": null},
                          "y": {"datum": 3.05, "type": "quantitative", "scale": {"domain": [-4.47, 4.61], "nice": false, "zero": false}, "axis": null}, "text": {"field": "label"}}}
          ]
        }
      ]
    }
  ]
}
